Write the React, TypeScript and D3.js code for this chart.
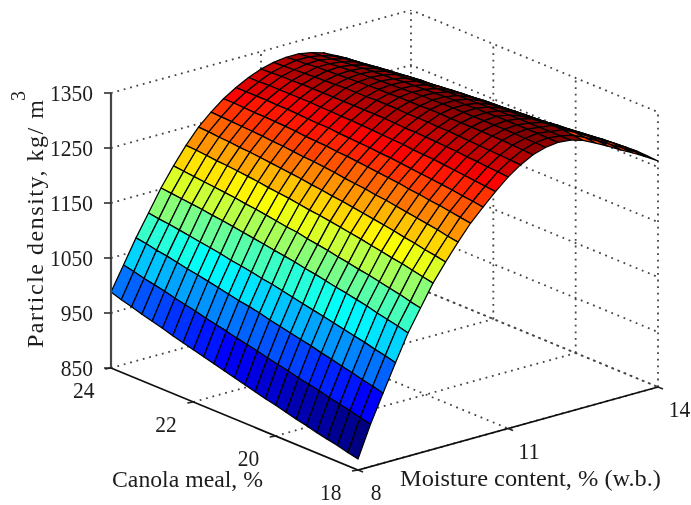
import React from 'react';
import * as d3 from 'd3';

const moistureValues = [8, 8.25, 8.5, 8.75, 9, 9.25, 9.5, 9.75, 10, 10.25, 10.5, 10.75, 11, 11.25, 11.5, 11.75, 12, 12.25, 12.5, 12.75, 13, 13.25, 13.5, 13.75, 14];
const canolaValues = [24, 23.75, 23.5, 23.25, 23, 22.75, 22.5, 22.25, 22, 21.75, 21.5, 21.25, 21, 20.75, 20.5, 20.25, 20, 19.75, 19.5, 19.25, 19, 18.75, 18.5, 18.25, 18];

// one row per moisture value, one column per canola value
const density = [
  [988, 982, 977, 971, 966, 961, 955, 950, 945, 940, 935, 930, 925, 920, 915, 910, 906, 901, 896, 892, 887, 883, 879, 874, 870],
  [1031, 1027, 1022, 1018, 1014, 1009, 1005, 1001, 996, 992, 988, 983, 979, 975, 970, 966, 962, 957, 953, 949, 944, 940, 936, 931, 927],
  [1074, 1071, 1067, 1064, 1060, 1056, 1053, 1049, 1045, 1041, 1037, 1034, 1030, 1025, 1021, 1017, 1013, 1009, 1004, 1000, 995, 991, 986, 982, 977],
  [1113, 1110, 1108, 1105, 1102, 1099, 1096, 1093, 1089, 1086, 1083, 1079, 1076, 1072, 1068, 1064, 1060, 1056, 1052, 1048, 1044, 1040, 1035, 1031, 1026],
  [1152, 1150, 1148, 1146, 1144, 1141, 1139, 1136, 1133, 1130, 1127, 1124, 1121, 1118, 1114, 1111, 1107, 1103, 1100, 1096, 1092, 1087, 1083, 1079, 1074],
  [1186, 1184, 1182, 1180, 1178, 1176, 1174, 1171, 1169, 1166, 1163, 1160, 1158, 1154, 1151, 1148, 1144, 1141, 1137, 1134, 1130, 1126, 1122, 1117, 1113],
  [1217, 1216, 1214, 1212, 1211, 1209, 1207, 1205, 1202, 1200, 1198, 1195, 1192, 1190, 1187, 1184, 1181, 1178, 1174, 1171, 1167, 1164, 1160, 1156, 1152],
  [1244, 1243, 1241, 1240, 1238, 1237, 1235, 1233, 1231, 1229, 1227, 1224, 1222, 1219, 1217, 1214, 1211, 1208, 1205, 1202, 1198, 1195, 1191, 1188, 1184],
  [1265, 1264, 1263, 1262, 1261, 1260, 1258, 1257, 1255, 1253, 1252, 1250, 1248, 1245, 1243, 1241, 1238, 1236, 1233, 1230, 1227, 1224, 1221, 1217, 1214],
  [1283, 1283, 1282, 1281, 1281, 1280, 1279, 1278, 1276, 1275, 1274, 1272, 1271, 1269, 1267, 1265, 1263, 1261, 1258, 1256, 1253, 1251, 1248, 1245, 1242],
  [1297, 1297, 1297, 1297, 1296, 1296, 1295, 1294, 1293, 1293, 1291, 1290, 1289, 1288, 1286, 1285, 1283, 1281, 1279, 1277, 1275, 1273, 1270, 1268, 1265],
  [1309, 1309, 1310, 1310, 1310, 1310, 1310, 1309, 1309, 1308, 1308, 1307, 1306, 1305, 1304, 1303, 1301, 1300, 1299, 1297, 1295, 1293, 1291, 1289, 1287],
  [1318, 1319, 1320, 1320, 1321, 1321, 1321, 1321, 1321, 1321, 1321, 1321, 1321, 1320, 1319, 1319, 1318, 1317, 1316, 1315, 1313, 1312, 1310, 1309, 1307],
  [1324, 1325, 1326, 1327, 1328, 1329, 1330, 1331, 1331, 1331, 1332, 1332, 1332, 1331, 1331, 1331, 1330, 1330, 1329, 1328, 1327, 1326, 1325, 1324, 1323],
  [1327, 1329, 1330, 1332, 1333, 1334, 1335, 1336, 1337, 1338, 1338, 1339, 1339, 1339, 1340, 1340, 1339, 1339, 1339, 1339, 1338, 1338, 1337, 1336, 1335],
  [1327, 1329, 1331, 1332, 1334, 1335, 1337, 1338, 1339, 1340, 1341, 1342, 1343, 1343, 1344, 1344, 1344, 1344, 1344, 1344, 1344, 1344, 1343, 1343, 1342],
  [1323, 1325, 1327, 1329, 1331, 1333, 1335, 1336, 1337, 1339, 1340, 1341, 1342, 1343, 1344, 1344, 1345, 1345, 1346, 1346, 1346, 1346, 1346, 1345, 1345],
  [1316, 1318, 1321, 1323, 1325, 1327, 1329, 1331, 1332, 1334, 1335, 1336, 1338, 1339, 1340, 1340, 1341, 1342, 1342, 1343, 1343, 1343, 1343, 1343, 1343],
  [1305, 1308, 1310, 1312, 1315, 1317, 1319, 1321, 1322, 1324, 1326, 1327, 1329, 1330, 1331, 1332, 1333, 1334, 1334, 1337, 1338, 1340, 1340, 1338, 1336],
  [1291, 1294, 1296, 1299, 1301, 1303, 1306, 1308, 1309, 1311, 1313, 1315, 1316, 1317, 1319, 1320, 1321, 1322, 1323, 1325, 1327, 1328, 1329, 1327, 1325],
  [1276, 1279, 1282, 1284, 1287, 1289, 1291, 1293, 1295, 1297, 1299, 1301, 1303, 1304, 1305, 1307, 1308, 1309, 1310, 1313, 1314, 1316, 1316, 1315, 1313],
  [1259, 1262, 1265, 1268, 1270, 1273, 1275, 1278, 1280, 1282, 1284, 1286, 1288, 1289, 1291, 1292, 1293, 1295, 1296, 1299, 1301, 1302, 1303, 1302, 1300],
  [1242, 1245, 1248, 1251, 1254, 1257, 1260, 1262, 1264, 1267, 1269, 1271, 1273, 1275, 1277, 1278, 1280, 1281, 1283, 1286, 1288, 1290, 1291, 1289, 1288],
  [1224, 1227, 1231, 1234, 1237, 1240, 1243, 1246, 1248, 1251, 1253, 1255, 1258, 1260, 1262, 1263, 1265, 1267, 1268, 1272, 1274, 1276, 1277, 1276, 1275],
  [1205, 1209, 1212, 1216, 1219, 1222, 1225, 1228, 1231, 1234, 1236, 1239, 1241, 1243, 1245, 1248, 1249, 1251, 1253, 1257, 1259, 1262, 1263, 1262, 1261],
];

const zTicks = [850, 950, 1050, 1150, 1250, 1350];
const canolaTicks = [24, 22, 20, 18];
const moistureTicks = [8, 11, 14];
const zTitle = 'Particle density, kg/ m';
const canolaTitle = 'Canola meal, %';
const moistureTitle = 'Moisture content, % (w.b.)';

const WIDTH = 691;
const HEIGHT = 505;

// oblique projection: each axis adds its own screen offset
const mX = d3.scaleLinear().domain([8, 14]).range([0, 300]);
const mY = d3.scaleLinear().domain([8, 14]).range([0, -83]);
const cX = d3.scaleLinear().domain([24, 18]).range([111, 358]);
const cY = d3.scaleLinear().domain([24, 18]).range([368, 470]);
const zY = d3.scaleLinear().domain([850, 1350]).range([0, -275]);

const project = (m: number, c: number, z: number): [number, number] => [
  cX(c) + mX(m),
  cY(c) + mY(m) + zY(z),
];

// matlab jet, 64 steps
const jet = d3
  .scaleLinear<string>()
  .domain([0, 0.125, 0.375, 0.625, 0.875, 1])
  .range(['#000080', '#0000ff', '#00ffff', '#ffff00', '#ff0000', '#800000'])
  .interpolate(d3.interpolateRgb);
const colorScale = d3.scaleLinear().domain([870, 1346]).range([0, 63]).clamp(true);
const faceColor = (z: number) => jet(Math.round(colorScale(z)) / 63);

const line = d3.line();

function buildFaces() {
  const faces: { d: string; fill: string }[] = [];
  // painter's order: far moisture first, rear canola first
  for (let i = moistureValues.length - 2; i >= 0; i--) {
    for (let j = 0; j < canolaValues.length - 1; j++) {
      const corners = [
        project(moistureValues[i], canolaValues[j], density[i][j]),
        project(moistureValues[i + 1], canolaValues[j], density[i + 1][j]),
        project(moistureValues[i + 1], canolaValues[j + 1], density[i + 1][j + 1]),
        project(moistureValues[i], canolaValues[j + 1], density[i][j + 1]),
      ];
      // the thin lip past the ridge is brighter in the picture
      const lip = i >= 18 && j >= 22;
      faces.push({ d: line(corners) + 'Z', fill: lip ? '#ff3c00' : faceColor(density[i][j + 1]) });
    }
  }
  return faces;
}

const dotted = { fill: 'none', stroke: '#444', strokeWidth: 1.8, strokeDasharray: '1.8 4.8' };

export default function App() {
  const faces = buildFaces();
  const zMin = zTicks[0];
  const zMax = zTicks[zTicks.length - 1];
  const gridLines: [number, number][][] = [];
  zTicks.forEach((z) => {
    gridLines.push([project(8, 24, z), project(14, 24, z), project(14, 18, z)]);
  });
  moistureTicks.slice(1).forEach((m) => {
    gridLines.push([project(m, 24, zMin), project(m, 24, zMax)]);
    gridLines.push([project(m, 24, zMin), project(m, 18, zMin)]);
  });
  canolaTicks.slice(1).forEach((c) => {
    gridLines.push([project(14, c, zMin), project(14, c, zMax)]);
    gridLines.push([project(8, c, zMin), project(14, c, zMin)]);
  });

  const textProps = { fontFamily: 'Liberation Serif', fill: '#1c1c1c' };

  return (
    <svg
      width={WIDTH}
      height={HEIGHT}
      style={{ position: 'absolute', left: 0, top: 0, background: '#fff' }}
    >
      <defs>
        <filter id="soft" x="0" y="0" width="100%" height="100%">
          <feGaussianBlur stdDeviation="0.5" />
        </filter>
      </defs>
      <g filter="url(#soft)">
        <g>
          {gridLines.map((pts, k) => (
            <path key={k} d={line(pts) ?? ''} {...dotted} />
          ))}
        </g>
        <g stroke="#000" strokeWidth={1.25}>
          {faces.map((f, k) => (
            <path key={k} d={f.d} fill={f.fill} strokeLinejoin="round" />
          ))}
        </g>
        <g stroke="#222" fill="none">
          <path d={line([project(8, 24, zMin), project(8, 24, zMax)]) ?? ''} strokeWidth={2.2} stroke="#444" />
          <path d={line([project(8, 24, zMin), project(8, 18, zMin), project(14, 18, zMin)]) ?? ''} strokeWidth={1.7} stroke="#111" />
          {zTicks.map((z) => {
            const [x, y] = project(8, 24, z);
            return <path key={z} d={`M${x - 7},${y}L${x},${y}`} strokeWidth={1.5} />;
          })}
          {canolaTicks.map((c) => {
            const [x, y] = project(8, c, zMin);
            return <path key={c} d={`M${x - 6},${y + 1}L${x},${y}`} strokeWidth={1.5} />;
          })}
          {moistureTicks.map((m) => {
            const [x, y] = project(m, 18, zMin);
            return <path key={m} d={`M${x + 5},${y + 2}L${x},${y}`} strokeWidth={1.5} />;
          })}
        </g>
        <g {...textProps} fontSize={24}>
          {zTicks.map((z) => {
            const label = String(z);
            return (
              <text
                key={z}
                x={93 - label.length * 10.75}
                y={project(8, 24, z)[1] + 8}
                textLength={label.length * 10.75}
                lengthAdjust="spacingAndGlyphs"
              >
                {label}
              </text>
            );
          })}
          {canolaTicks.map((c) => {
            const [x, y] = project(8, c, zMin);
            return (
              <text key={c} x={x - 38} y={y + 30} textLength={21.5} lengthAdjust="spacingAndGlyphs">
                {c}
              </text>
            );
          })}
          {moistureTicks.map((m) => {
            const [x, y] = project(m, 18, zMin);
            const label = String(m);
            const w = label.length * 10.75;
            const cx = Math.min(x + 18 + (m - 8), 679.5);
            return (
              <text key={m} x={cx - w / 2} y={y + 30} textLength={w} lengthAdjust="spacingAndGlyphs">
                {label}
              </text>
            );
          })}
          <text x={112} y={487} textLength={151} lengthAdjust="spacingAndGlyphs">
            {canolaTitle}
          </text>
          <text x={400} y={486} textLength={261} lengthAdjust="spacingAndGlyphs">
            {moistureTitle}
          </text>
          <text transform="translate(43,348) rotate(-90)" textLength={248} lengthAdjust="spacing">
            {zTitle}
          </text>
          <text transform="translate(25,101) rotate(-90)" fontSize={20}>
            3
          </text>
        </g>
      </g>
    </svg>
  );
}
